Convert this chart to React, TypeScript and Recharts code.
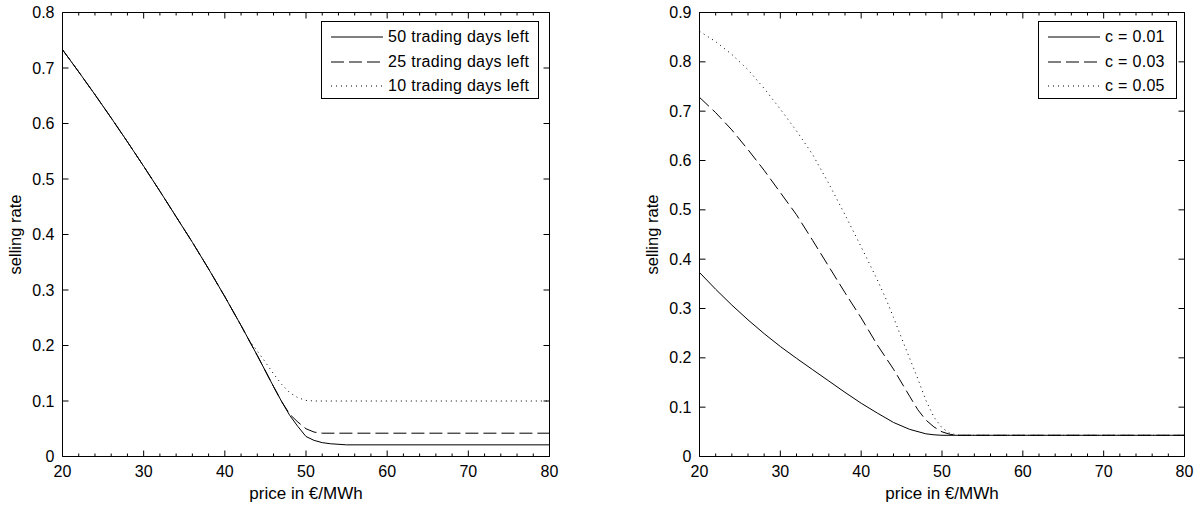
import React from 'react';
import { LineChart, Line, XAxis, YAxis, Legend, Label } from 'recharts';

const FONT = '"Liberation Sans", Arial, Helvetica, sans-serif';
const INK = '#000';

// ---------- axes ----------
const priceTicks = [20, 22, 24, 26, 28, 30, 32, 34, 36, 38, 40, 42, 44, 46, 48, 50, 52, 54, 56, 58, 60, 62, 64, 66, 68, 70, 72, 74, 76, 78, 80];
const priceLabelTicks = [20, 30, 40, 50, 60, 70, 80];
const leftRateTicks = [0, 0.1, 0.2, 0.3, 0.4, 0.5, 0.6, 0.7, 0.8];
const rightRateTicks = [0, 0.1, 0.2, 0.3, 0.4, 0.5, 0.6, 0.7, 0.8, 0.9];
const xAxisTitle = 'price in €/MWh';
const yAxisTitle = 'selling rate';

// ---------- left panel ----------
const leftLabels = ['50 trading days left', '25 trading days left', '10 trading days left'];
const left50Price = [20, 22, 24, 26, 28, 30, 32, 34, 36, 38, 40, 42, 44, 45, 46, 47, 48, 49, 50, 51, 52, 53, 55, 80];
const left50Rate = [0.733, 0.693, 0.652, 0.61, 0.567, 0.523, 0.478, 0.432, 0.386, 0.338, 0.288, 0.236, 0.182, 0.154, 0.126, 0.099, 0.074, 0.054, 0.036, 0.029, 0.025, 0.023, 0.021, 0.021];
const left25Price = [20, 22, 24, 26, 28, 30, 32, 34, 36, 38, 40, 42, 44, 45, 46, 47, 48, 49, 50, 51, 52, 80];
const left25Rate = [0.733, 0.693, 0.652, 0.61, 0.567, 0.523, 0.478, 0.432, 0.386, 0.338, 0.288, 0.236, 0.182, 0.154, 0.126, 0.099, 0.076, 0.062, 0.05, 0.044, 0.042, 0.042];
const left10Price = [20, 22, 24, 26, 28, 30, 32, 34, 36, 38, 40, 42, 43, 44, 45, 46, 47, 48, 49, 50, 51, 80];
const left10Rate = [0.733, 0.693, 0.652, 0.61, 0.567, 0.523, 0.478, 0.432, 0.386, 0.338, 0.288, 0.236, 0.209, 0.19, 0.17, 0.149, 0.13, 0.115, 0.106, 0.101, 0.1, 0.1];

// ---------- right panel ----------
const rightLabels = ['c = 0.01', 'c = 0.03', 'c = 0.05'];
const rightC1Price = [20, 22, 24, 26, 28, 30, 32, 34, 36, 38, 40, 42, 44, 46, 48, 49, 50, 80];
const rightC1Rate = [0.373, 0.339, 0.307, 0.277, 0.249, 0.223, 0.199, 0.176, 0.153, 0.13, 0.108, 0.088, 0.069, 0.055, 0.046, 0.044, 0.043, 0.043];
const rightC3Price = [20, 22, 24, 26, 28, 30, 32, 34, 36, 38, 40, 42, 44, 46, 47, 48, 49, 50, 51, 52, 80];
const rightC3Rate = [0.728, 0.697, 0.662, 0.622, 0.58, 0.535, 0.49, 0.438, 0.385, 0.332, 0.281, 0.226, 0.177, 0.122, 0.095, 0.074, 0.06, 0.05, 0.045, 0.043, 0.043];
const rightC5Price = [20, 22, 24, 26, 28, 30, 32, 34, 36, 38, 40, 42, 43, 44, 45, 46, 47, 48, 49, 50, 51, 52, 80];
const rightC5Rate = [0.862, 0.841, 0.815, 0.784, 0.746, 0.704, 0.66, 0.612, 0.553, 0.49, 0.425, 0.358, 0.322, 0.282, 0.24, 0.199, 0.158, 0.114, 0.08, 0.058, 0.047, 0.043, 0.043];

const DASHES = [undefined, '13 5', '1 4'];
// which axis pair each series is bound to (all axes share identical domains)
const AXES: [string, string][] = [
  ['b', 'l'],
  ['t', 'r'],
  ['b', 'l'],
];

const zip = (xs: number[], ys: number[]) => xs.map((p, i) => ({ price: p, rate: ys[i] }));

const isMajor = (v: number) => priceLabelTicks.includes(v);
const fmtRate = (v: number) => (v === 0 ? '0' : v.toFixed(1));

const textStyle = { fontFamily: FONT, fontSize: 16, fill: INK } as const;

const BottomTick = (props: any) => {
  const { x, y, payload } = props;
  const v = payload.value;
  const major = isMajor(v);
  return (
    <g>
      <line x1={x} x2={x} y1={y} y2={y - (major ? 6 : 3)} stroke={INK} strokeWidth={1} />
      {major && (
        <text x={x} y={y + 20} textAnchor="middle" {...textStyle}>
          {v}
        </text>
      )}
    </g>
  );
};

const TopTick = (props: any) => {
  const { x, y, payload } = props;
  const major = isMajor(payload.value);
  return <line x1={x} x2={x} y1={y} y2={y + (major ? 6 : 3)} stroke={INK} strokeWidth={1} />;
};

const LeftTick = (props: any) => {
  const { x, y, payload } = props;
  return (
    <g>
      <line x1={x} x2={x + 6} y1={y} y2={y} stroke={INK} strokeWidth={1} />
      <text x={x - 8} y={y + 5.5} textAnchor="end" {...textStyle}>
        {fmtRate(payload.value)}
      </text>
    </g>
  );
};

const RightTick = (props: any) => {
  const { x, y } = props;
  return <line x1={x} x2={x - 6} y1={y} y2={y} stroke={INK} strokeWidth={1} />;
};

const XTitle = (props: any) => {
  const vb = props.viewBox || {};
  return (
    <text x={vb.x + vb.width / 2} y={vb.y + 42.5} textAnchor="middle" {...textStyle} fontSize={17}>
      {xAxisTitle}
    </text>
  );
};

const YTitle = (props: any) => {
  const vb = props.viewBox || {};
  const x = vb.x + 20.5;
  const y = vb.y + vb.height / 2;
  return (
    <text x={x} y={y} textAnchor="middle" transform={`rotate(-90 ${x} ${y})`} {...textStyle} fontSize={16.5}>
      {yAxisTitle}
    </text>
  );
};

const makeLegend = (labels: string[], boxWidth: number) => () => (
  <div
    style={{
      width: boxWidth,
      height: 78,
      boxSizing: 'border-box',
      border: '1px solid #000',
      background: '#fff',
      fontFamily: FONT,
      fontSize: 16,
      color: INK,
      paddingTop: 3,
    }}
  >
    {labels.map((lab, i) => (
      <div key={lab} style={{ height: 24.4, display: 'flex', alignItems: 'center', whiteSpace: 'nowrap' }}>
        <svg width={66} height={10} style={{ flex: 'none' }}>
          <line x1={9} x2={61} y1={5} y2={5} stroke={INK} strokeWidth={1} strokeDasharray={DASHES[i]} />
        </svg>
        <span style={{ lineHeight: '18px', letterSpacing: 0.3 }}>{lab}</span>
      </div>
    ))}
  </div>
);

type Series = { price: number[]; rate: number[]; label: string };

const Panel = ({
  left,
  width,
  marginLeft,
  rateTicks,
  series,
  legendLeft,
  legendWidth,
  labels,
}: {
  left: number;
  width: number;
  marginLeft: number;
  rateTicks: number[];
  series: Series[];
  legendLeft: number;
  legendWidth: number;
  labels: string[];
}) => {
  const yMax = rateTicks[rateTicks.length - 1];
  return (
    <div style={{ position: 'absolute', left, top: 0 }}>
      <LineChart width={width} height={506} margin={{ top: 11.5, right: 9.5, bottom: 0, left: marginLeft }}>
        <XAxis
          xAxisId="b"
          type="number"
          dataKey="price"
          domain={[20, 80]}
          ticks={priceTicks}
          interval={0}
          height={49.5}
          tickSize={0}
          tickMargin={0}
          tickLine={false}
          tick={<BottomTick />}
          axisLine={{ stroke: INK, strokeWidth: 1 }}
          allowDataOverflow
        >
          <Label content={<XTitle />} />
        </XAxis>
        <XAxis
          xAxisId="t"
          orientation="top"
          type="number"
          dataKey="price"
          domain={[20, 80]}
          ticks={priceTicks}
          interval={0}
          height={1}
          tickSize={0}
          tickMargin={0}
          tickLine={false}
          tick={<TopTick />}
          axisLine={{ stroke: INK, strokeWidth: 1 }}
          allowDataOverflow
        />
        <YAxis
          yAxisId="l"
          type="number"
          domain={[0, yMax]}
          ticks={rateTicks}
          interval={0}
          width={62}
          tickSize={0}
          tickMargin={0}
          tickLine={false}
          tick={<LeftTick />}
          axisLine={{ stroke: INK, strokeWidth: 1 }}
          allowDataOverflow
        >
          <Label content={<YTitle />} />
        </YAxis>
        <YAxis
          yAxisId="r"
          orientation="right"
          type="number"
          domain={[0, yMax]}
          ticks={rateTicks}
          interval={0}
          width={1}
          tickSize={0}
          tickMargin={0}
          tickLine={false}
          tick={<RightTick />}
          axisLine={{ stroke: INK, strokeWidth: 1 }}
          allowDataOverflow
        />
        {series.map((s, i) => (
          <Line
            key={s.label}
            xAxisId={AXES[i][0]}
            yAxisId={AXES[i][1]}
            data={zip(s.price, s.rate)}
            dataKey="rate"
            name={s.label}
            type="linear"
            stroke={INK}
            strokeWidth={1}
            strokeDasharray={DASHES[i]}
            dot={false}
            activeDot={false}
            isAnimationActive={false}
          />
        ))}
        <Legend
          layout="vertical"
          align="center"
          verticalAlign="middle"
          content={makeLegend(labels, legendWidth)}
          wrapperStyle={{ position: 'absolute', left: legendLeft, top: 21, width: legendWidth, height: 78 }}
        />
      </LineChart>
    </div>
  );
};

export default function App() {
  const leftSeries: Series[] = [
    { price: left50Price, rate: left50Rate, label: leftLabels[0] },
    { price: left25Price, rate: left25Rate, label: leftLabels[1] },
    { price: left10Price, rate: left10Rate, label: leftLabels[2] },
  ];
  const rightSeries: Series[] = [
    { price: rightC1Price, rate: rightC1Rate, label: rightLabels[0] },
    { price: rightC3Price, rate: rightC3Rate, label: rightLabels[1] },
    { price: rightC5Price, rate: rightC5Rate, label: rightLabels[2] },
  ];
  return (
    <div style={{ position: 'absolute', left: 0, top: 0, width: 1195, height: 506, background: '#fff', overflow: 'hidden' }}>
      <Panel
        left={0}
        width={560}
        marginLeft={0.5}
        rateTicks={leftRateTicks}
        series={leftSeries}
        legendLeft={321}
        legendWidth={218}
        labels={leftLabels}
      />
      <Panel
        left={600}
        width={595}
        marginLeft={37.5}
        rateTicks={rightRateTicks}
        series={rightSeries}
        legendLeft={438}
        legendWidth={139}
        labels={rightLabels}
      />
    </div>
  );
}
